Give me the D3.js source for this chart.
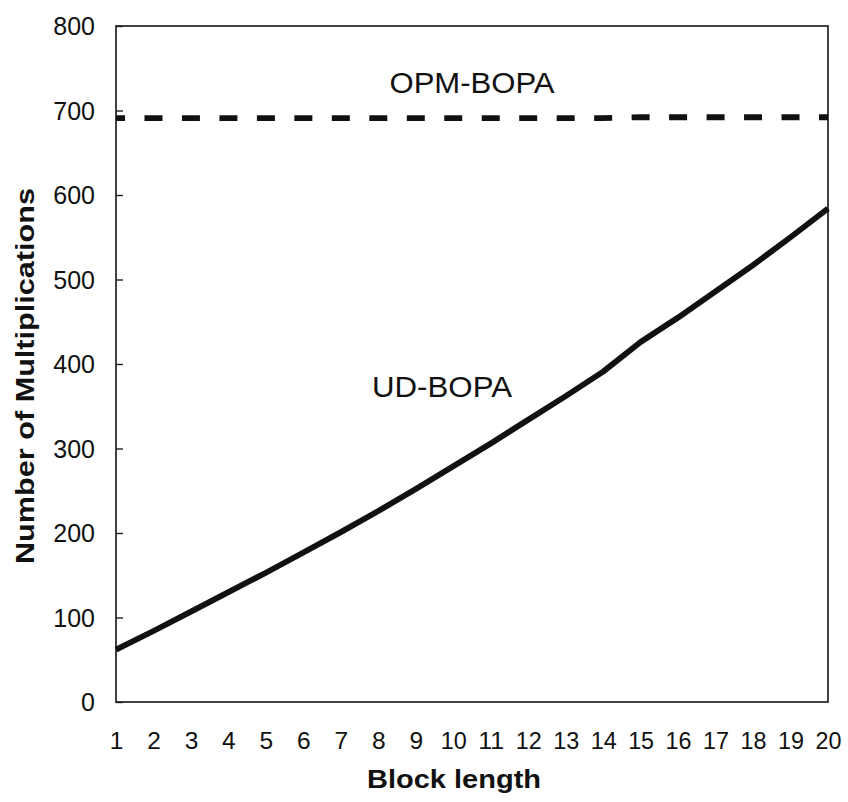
<!DOCTYPE html>
<html>
<head>
<meta charset="utf-8">
<script src="https://cdn.jsdelivr.net/npm/d3@7"></script>
<style>
  html, body { margin: 0; padding: 0; background: #fff; }
  svg { display: block; }
  text { font-family: "Liberation Sans", Arial, sans-serif; fill: #111; }
</style>
</head>
<body>
<svg id="chart" width="848" height="802"></svg>
<script>
// Block lengths 1..20
const blockLengths = [1, 2, 3, 4, 5, 6, 7, 8, 9, 10, 11, 12, 13, 14, 15, 16, 17, 18, 19, 20];
// Multiplications needed by each algorithm
const udBopa  = [62, 84, 107, 130, 153, 177, 201, 226, 252, 279, 306, 334, 362, 391, 426, 455, 486, 517, 550, 584];
const opmBopa = [691, 691, 691, 691, 691, 691, 691, 691, 691, 691, 691, 691, 691, 691, 692, 692, 692, 692, 692, 692];
const yTicks = [0, 100, 200, 300, 400, 500, 600, 700, 800];

(function drawChart() {
  const svg = d3.select("#chart");
  const m = { left: 116, right: 828, top: 26, bottom: 702 };

  const x = d3.scaleLinear().domain([1, 20]).range([m.left, m.right]);
  const y = d3.scaleLinear().domain([0, 800]).range([m.bottom, m.top]);

  // Plot frame
  svg.append("rect")
    .attr("x", m.left).attr("y", m.top)
    .attr("width", m.right - m.left).attr("height", m.bottom - m.top)
    .attr("fill", "none").attr("stroke", "#222").attr("stroke-width", 1.7);

  // Y axis: inward ticks, labels to the left
  const yAxis = svg.append("g").attr("transform", `translate(${m.left},0)`)
    .call(d3.axisRight(y).tickValues(yTicks).tickSize(7).tickFormat(""));
  yAxis.select(".domain").remove();
  yAxis.selectAll("line").attr("stroke", "#222").attr("stroke-width", 1.4);

  svg.append("g").selectAll("text").data(yTicks).join("text")
    .attr("x", 95).attr("y", d => y(d))
    .attr("dy", "0.36em")
    .attr("text-anchor", "end")
    .attr("font-size", 25)
    .text(d => d);

  // X axis labels (no tick marks)
  const xAxis = svg.append("g").attr("transform", `translate(0,${m.bottom})`)
    .call(d3.axisBottom(x).tickValues(blockLengths).tickSize(0).tickPadding(38).tickFormat(d3.format("d")));
  xAxis.select(".domain").remove();
  xAxis.selectAll("text")
    .attr("font-family", "Liberation Sans, Arial, sans-serif")
    .attr("font-size", 24.5)
    .attr("fill", "#111")
    .attr("dy", "0.36em");
  xAxis.selectAll("text").filter(d => d >= 10)
    .attr("textLength", 26).attr("lengthAdjust", "spacingAndGlyphs");

  // Series lines
  const line = d3.line().x((d, i) => x(blockLengths[i])).y(d => y(d));
  const step = x(2) - x(1);

  svg.append("path").datum(opmBopa)
    .attr("d", line)
    .attr("fill", "none").attr("stroke", "#111")
    .attr("stroke-width", 5.8)
    .attr("stroke-dasharray", `18 ${step - 18}`)
    .attr("stroke-dashoffset", 9);

  svg.append("path").datum(udBopa)
    .attr("d", line)
    .attr("fill", "none").attr("stroke", "#111")
    .attr("stroke-width", 5.8)
    .attr("stroke-linejoin", "round");

  // Series labels
  svg.append("text").attr("x", 472).attr("y", 93)
    .attr("text-anchor", "middle").attr("font-size", 29)
    .attr("textLength", 165).attr("lengthAdjust", "spacingAndGlyphs")
    .text("OPM-BOPA");
  svg.append("text").attr("x", 442).attr("y", 397)
    .attr("text-anchor", "middle").attr("font-size", 29)
    .attr("textLength", 140).attr("lengthAdjust", "spacingAndGlyphs")
    .text("UD-BOPA");

  // Axis titles
  svg.append("text").attr("x", 454).attr("y", 788)
    .attr("text-anchor", "middle").attr("font-size", 25).attr("font-weight", "bold")
    .attr("textLength", 174).attr("lengthAdjust", "spacingAndGlyphs")
    .text("Block length");
  svg.append("text")
    .attr("transform", "translate(34,376) rotate(-90)")
    .attr("text-anchor", "middle").attr("font-size", 25).attr("font-weight", "bold")
    .attr("textLength", 376).attr("lengthAdjust", "spacingAndGlyphs")
    .text("Number of Multiplications");
})();
</script>
</body>
</html>
